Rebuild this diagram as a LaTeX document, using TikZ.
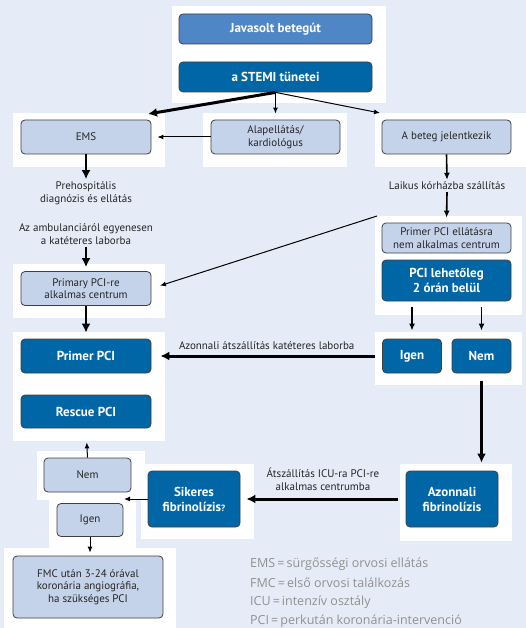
\documentclass[tikz,border=0pt]{standalone}
\usepackage{fontspec}
\setmainfont{PT Sans}
\newfontfamily\legendfont{Open Sans}
\usetikzlibrary{arrows.meta}
\definecolor{bgblue}{RGB}{229,235,247}
\definecolor{paleblue}{RGB}{197,211,234}
\definecolor{deepblue}{RGB}{0,102,166}
\definecolor{midblue}{RGB}{79,134,198}
\definecolor{legendgray}{RGB}{145,145,145}

\begin{document}
\begin{tikzpicture}[x=1pt,y=-1pt,
    box/.style={draw=black!75,line width=0.8pt,rounded corners=4pt,align=center,inner sep=1pt},
    palebox/.style={box,fill=paleblue,text=black!85,font=\fontsize{11}{12.5}\selectfont},
    deepbox/.style={box,fill=deepblue,text=white,font=\bfseries\fontsize{13}{15}\selectfont},
    lbl/.style={align=center,text=black!85,font=\fontsize{11}{13}\selectfont,inner sep=2pt},
    legend/.style={anchor=west,inner sep=0pt,text=legendgray,font=\legendfont\fontsize{12.5}{14}\selectfont},
    arr/.style={-{Latex[length=6pt,width=5pt]},line width=1pt},
    midarr/.style={-{Latex[length=7pt,width=6pt]},line width=1.6pt},
    fatarr/.style={-{Latex[length=9pt,width=9pt]},line width=3pt}]
      \useasboundingbox (0,0) rectangle (526,628);
      \fill [bgblue] (0,0) rectangle (526,628);

      % white panels behind the boxes
      \fill [white] (172,6) rectangle (386,103);
      \fill [white] (13,113) rectangle (165,167);
      \fill [white] (203,113) rectangle (347,167);
      \fill [white] (375,113) rectangle (526,167);
      \fill [white] (375,216) rectangle (522,315);
      \fill [white] (13,264) rectangle (165,318);
      \fill [white] (13,332) rectangle (165,441);
      \fill [white] (375,332) rectangle (522,385);
      \fill [white] (400,464) rectangle (512,541);
      \fill [white] (141,464) rectangle (254,539);
      \fill [white] (37,451) rectangle (145,500);
      \fill [white] (49,498) rectangle (136,548);
      \fill [white] (4,548) rectangle (176,628);

      % boxes
      \node [box,fill=midblue,text=white,font=\bfseries\fontsize{13}{15}\selectfont,
        minimum width=193,minimum height=30] (javasolt) at (275.5,29) {Javasolt betegút};
      \node [deepbox,minimum width=193,minimum height=30] (stemi) at (275.5,77) {a STEMI tünetei};
      \node [palebox,minimum width=130,minimum height=34] (ems) at (86,137) {EMS};
      \node [palebox,minimum width=129,minimum height=34] (alap) at (275.5,137) {Alapellátás/\\kardiológus};
      \node [palebox,minimum width=129,minimum height=34] (beteg) at (446.5,137) {A beteg jelentkezik};
      \node [palebox,minimum width=129,minimum height=30] (nemalk) at (446.5,238) {Primer PCI ellátásra\\nem alkalmas centrum};
      \node [deepbox,minimum width=129,minimum height=41] (pcikett) at (446.5,280.5) {PCI lehetőleg\\2 órán belül};
      \node [palebox,minimum width=130,minimum height=34] (primary) at (86,288.5) {Primary PCI-re\\alkalmas centrum};
      \node [deepbox,minimum width=130,minimum height=34] (primer) at (86,356) {Primer PCI};
      \node [deepbox,minimum width=130,minimum height=33] (rescue) at (86,411.5) {Rescue PCI};
      \node [deepbox,minimum width=59,minimum height=34] (igenA) at (412,356) {Igen};
      \node [deepbox,minimum width=59,minimum height=34] (nemA) at (481.5,356) {Nem};
      \node [deepbox,minimum width=92,minimum height=56] (azonnali) at (452,499) {Azonnali\\fibrinolízis};
      \node [deepbox,minimum width=92,minimum height=56] (sikeres) at (194,499) {Sikeres\\fibrinolízis{\fontsize{9}{9}\selectfont ?}};
      \node [palebox,minimum width=87,minimum height=34] (nemB) at (87.5,475) {Nem};
      \node [palebox,minimum width=66,minimum height=33] (igenB) at (90,520) {Igen};
      \node [palebox,minimum width=150,minimum height=62] (fmc) at (88,587) {FMC után 3-24 órával\\koronária angiográfia,\\ha szükséges PCI};

      % free labels
      \node [lbl] (prehosp) at (86,193) {Prehospitális\\diagnózis és ellátás};
      \node [lbl] (ambul) at (86,234) {Az ambulanciáról egyenesen\\a katéteres laborba};
      \node [lbl] (laikus) at (447,186) {Laikus kórházba szállítás};

      \coordinate (emshit) at (148,114);
      \coordinate (betegin) at (380,113);
      \coordinate (kink) at (377,216);
      \coordinate (fork) at (124,499);

      % connectors
      \draw [fatarr] (stemi.south) -- (emshit);
      \draw [arr,shorten >=6pt] (stemi.south) -- (alap.north);
      \draw [arr] (stemi.south) -- (betegin);
      \draw [arr,shorten >=6pt] (alap.west) -- (ems.east);
      \draw [fatarr,line width=2.5pt] (ems.south) -- (prehosp.north);
      \draw [midarr] (beteg.south) -- (laikus.north);
      \draw [midarr,shorten >=5pt] (laikus.south) -- (nemalk.north);
      \draw [fatarr,line width=2.5pt,shorten >=4pt] (ambul.south) -- (primary.north);
      \draw [arr,shorten >=9pt] (kink) -- (primary.east);
      \draw [fatarr,line width=2.5pt,shorten >=6pt] (primary.south) -- (primer.north);
      \draw [midarr,shorten <=6pt,shorten >=8pt] (igenA.north |- pcikett.south) -- (igenA.north);
      \draw [midarr,shorten <=6pt,shorten >=8pt] (nemA.north |- pcikett.south) -- (nemA.north);
      \draw [fatarr,shorten <=7pt,shorten >=9pt] (igenA.west) -- (primer.east)
        node [midway,above=5pt,lbl,inner sep=0pt] {Azonnali átszállítás katéteres laborba};
      \draw [fatarr,shorten <=8pt,shorten >=8pt] (nemA.south) -- (nemA.south |- azonnali.north);
      \draw [fatarr,shorten <=8pt,shorten >=6pt] (azonnali.west) -- (sikeres.east)
        node [midway,above=7pt,lbl,inner sep=0pt] {Átszállítás ICU-ra PCI-re\\alkalmas centrumba};
      \draw [arr] (sikeres.west) -- (fork);
      \draw [arr,shorten >=14pt] (nemB.north) -- (rescue.south);
      \draw [arr,shorten >=3pt] (igenB.south) -- (igenB.south |- fmc.north);

      % legend
      \foreach \txt [count=\i] in {{EMS\,=\,sürgősségi orvosi ellátás},{FMC\,=\,első orvosi találkozás},
          {ICU\,=\,intenzív osztály},{PCI\,=\,perkután koronária-intervenció}}
        \node [legend] (leg\i) at (250,545+19*\i) {\txt};
    \end{tikzpicture}
\end{document}
